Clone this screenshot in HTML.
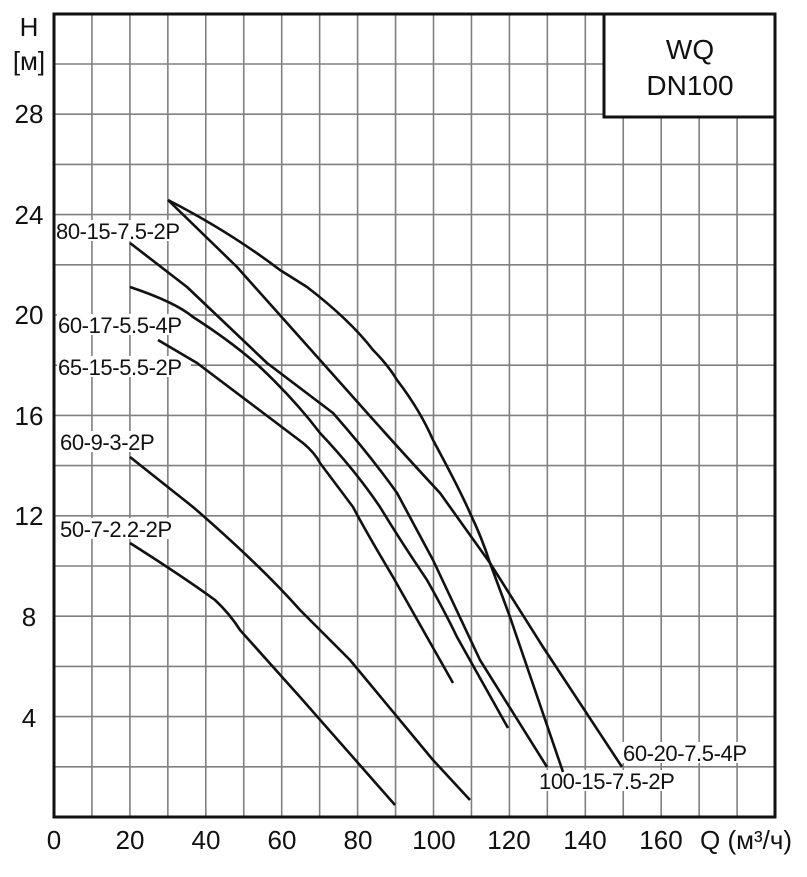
<!DOCTYPE html>
<html><head><meta charset="utf-8"><style>
body{margin:0;background:#fff;}
svg text{font-family:"Liberation Sans","DejaVu Sans",sans-serif;fill:#111;}
</style></head><body>
<svg width="807" height="872" viewBox="0 0 807 872" xmlns="http://www.w3.org/2000/svg">
<g stroke="#808080" stroke-width="1.6">
<line x1="91.95" y1="14" x2="91.95" y2="817"/><line x1="129.9" y1="14" x2="129.9" y2="817"/><line x1="167.85" y1="14" x2="167.85" y2="817"/><line x1="205.8" y1="14" x2="205.8" y2="817"/><line x1="243.75" y1="14" x2="243.75" y2="817"/><line x1="281.7" y1="14" x2="281.7" y2="817"/><line x1="319.65" y1="14" x2="319.65" y2="817"/><line x1="357.6" y1="14" x2="357.6" y2="817"/><line x1="395.55" y1="14" x2="395.55" y2="817"/><line x1="433.5" y1="14" x2="433.5" y2="817"/><line x1="471.45" y1="14" x2="471.45" y2="817"/><line x1="509.4" y1="14" x2="509.4" y2="817"/><line x1="547.35" y1="14" x2="547.35" y2="817"/><line x1="585.3" y1="14" x2="585.3" y2="817"/><line x1="623.25" y1="14" x2="623.25" y2="817"/><line x1="661.2" y1="14" x2="661.2" y2="817"/><line x1="699.15" y1="14" x2="699.15" y2="817"/><line x1="737.1" y1="14" x2="737.1" y2="817"/>
<line x1="54" y1="766.8" x2="775" y2="766.8"/><line x1="54" y1="716.6" x2="775" y2="716.6"/><line x1="54" y1="666.4" x2="775" y2="666.4"/><line x1="54" y1="616.2" x2="775" y2="616.2"/><line x1="54" y1="566" x2="775" y2="566"/><line x1="54" y1="515.8" x2="775" y2="515.8"/><line x1="54" y1="465.6" x2="775" y2="465.6"/><line x1="54" y1="415.4" x2="775" y2="415.4"/><line x1="54" y1="365.2" x2="775" y2="365.2"/><line x1="54" y1="315" x2="775" y2="315"/><line x1="54" y1="264.8" x2="775" y2="264.8"/><line x1="54" y1="214.6" x2="775" y2="214.6"/><line x1="54" y1="164.4" x2="775" y2="164.4"/><line x1="54" y1="114.2" x2="775" y2="114.2"/><line x1="54" y1="64" x2="775" y2="64"/>
</g>
<g font-size="22" letter-spacing="-0.4">
<rect x="55" y="220" width="130" height="21" fill="#fff"/><text x="56" y="239">80-15-7.5-2P</text>
<rect x="57" y="314" width="134" height="21" fill="#fff"/><text x="58" y="333">60-17-5.5-4P</text>
<rect x="57" y="356" width="134" height="21" fill="#fff"/><text x="58" y="375">65-15-5.5-2P</text>
<rect x="59" y="431" width="106" height="21" fill="#fff"/><text x="60" y="450">60-9-3-2P</text>
<rect x="59" y="518" width="122" height="21" fill="#fff"/><text x="60" y="537">50-7-2.2-2P</text>
<rect x="622" y="742" width="136" height="21" fill="#fff"/><text x="623" y="761">60-20-7.5-4P</text>
<rect x="537" y="770" width="148" height="21" fill="#fff"/><text x="539" y="789">100-15-7.5-2P</text>
</g>
<g fill="none" stroke="#111" stroke-width="2.6" stroke-linejoin="round">
<path d="M168,200 Q230,232 280,270 L307,287 Q350,320 373,350 Q388,365 397,380 Q420,410 433,440 Q460,490 470,513 Q482,538 490,563 L510,617 L563,772"/>
<path d="M168,200 L237,267 L287,323 L353,397 Q400,450 440,493 L490,563 L543,647 L622,767"/>
<path d="M130,243 L187,287 L267,363 L333,413 Q370,455 397,493 L433,560 L480,660 L547,767"/>
<path d="M130,287 Q175,302 193,317 Q232,342 260,367 Q295,400 320,433 Q355,470 380,507 Q400,540 427,580 Q445,612 457,637 L508,728"/>
<path d="M158,340 L197,363 L303,443 Q315,453 320,463 L353,507 Q365,530 393,577 L453,683"/>
<path d="M130,457 L193,507 Q260,565 300,610 L350,660 L433,760 L470,800"/>
<path d="M130,543 Q185,578 215,600 Q230,614 240,630 L300,697 L395,805"/>
</g>
<rect x="54" y="14" width="721" height="803" fill="none" stroke="#111" stroke-width="3"/>
<rect x="604" y="14" width="171" height="103" fill="#fff" stroke="#111" stroke-width="3"/>
<text x="690" y="59" font-size="28" text-anchor="middle">WQ</text>
<text x="690" y="95" font-size="28" text-anchor="middle">DN100</text>
<g font-size="26" text-anchor="middle">
<text x="29" y="36">H</text>
<text x="29" y="70">[м]</text>
<text x="29" y="123">28</text>
<text x="29" y="224">24</text>
<text x="29" y="324">20</text>
<text x="29" y="425">16</text>
<text x="29" y="525">12</text>
<text x="29" y="626">8</text>
<text x="29" y="727">4</text>
<text x="54" y="849">0</text>
<text x="130" y="849">20</text>
<text x="206" y="849">40</text>
<text x="282" y="849">60</text>
<text x="358" y="849">80</text>
<text x="434" y="849">100</text>
<text x="509" y="849">120</text>
<text x="585" y="849">140</text>
<text x="661" y="849">160</text>
</g>
<text x="700" y="849" font-size="26">Q (м³/ч)</text>
</svg>
</body></html>
